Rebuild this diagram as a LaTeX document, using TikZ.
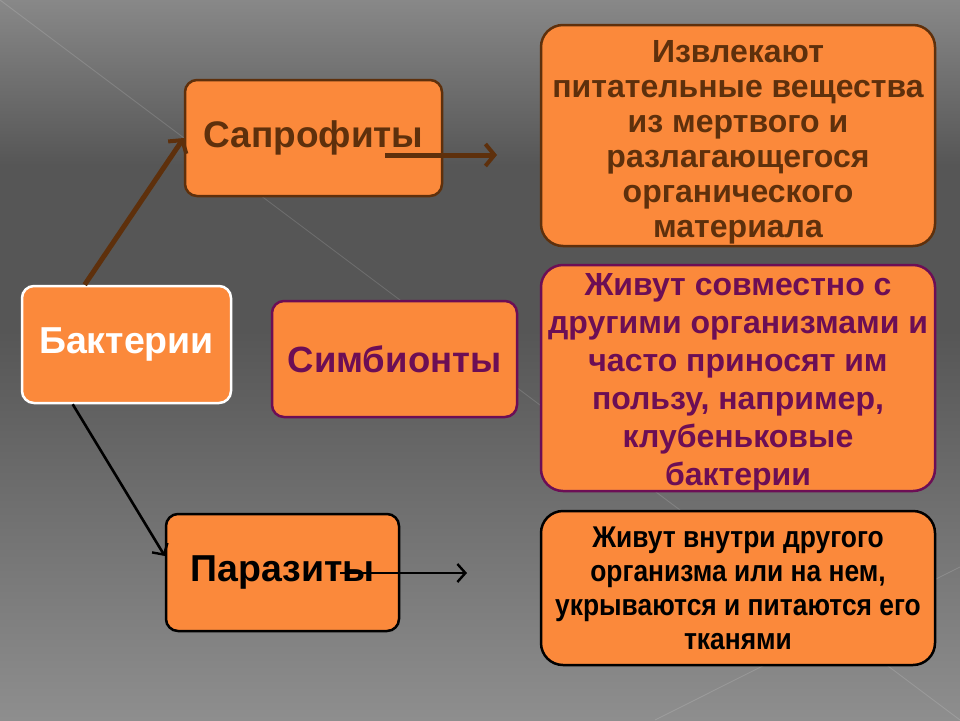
\documentclass[tikz,border=0pt]{standalone}
\usepackage{fontspec}
\setmainfont{Liberation Sans}
\newfontfamily\narrowfont[FakeStretch=0.88]{Liberation Sans}
\usetikzlibrary{arrows.meta,calc}
\definecolor{orfill}{HTML}{FB893B}
\definecolor{brownc}{HTML}{5E300C}
\definecolor{purpc}{HTML}{6C0E55}
\definecolor{bgtop}{HTML}{888888}
\definecolor{bgmid}{HTML}{565656}
\definecolor{bgbot}{HTML}{8E8E8E}
\tikzset{
  box/.style={draw, line width=2.5pt, fill=orfill, align=center, inner sep=0pt},
  smallbox/.style={box, rounded corners=12pt},
  bigbox/.style={box, rounded corners=22pt},
  brownbox/.style={draw=brownc, text=brownc},
  purplebox/.style={draw=purpc, text=purpc},
  whitebox/.style={draw=white, text=white},
  blackbox/.style={draw=black, text=black},
  brownarrow/.style={draw=brownc, line width=5pt, -{Straight Barb[length=9pt,width=22pt,line width=4pt]}},
  blackarrow/.style={draw=black, line width=2.6pt, -{Straight Barb[length=8pt,width=18pt,line width=2.4pt]}},
  faint/.style={draw=white, opacity=0.15, line width=0.8pt}
}
\begin{document}
\begin{tikzpicture}[x=1pt,y=-1pt]
\shade[top color=bgtop, bottom color=bgmid, middle color=bgmid] (0,0) rectangle (960,330);
\shade[top color=bgmid, bottom color=bgbot] (0,330) rectangle (960,720);
\useasboundingbox (0,0) rectangle (960,720);
\draw[faint] (0,0) -- (960,720);
\draw[faint] (655,720) -- (960,567);

% nodes
\node[smallbox, brownbox, minimum width=257pt, minimum height=116pt, font=\fontsize{37}{40}\selectfont\bfseries] (sap) at (313.5,138) {Сапрофиты};
\node[bigbox, brownbox, minimum width=394pt, minimum height=221pt] (sapd) at (738,135.5) {};
\node[brownc, align=center, inner sep=0pt, font=\fontsize{32}{35}\selectfont\bfseries] (sapt) at (738,142) {Извлекают\\питательные вещества\\из мертвого и\\разлагающегося\\органического\\материала};
\node[smallbox, whitebox, minimum width=209pt, minimum height=117pt, font=\fontsize{37.5}{40}\selectfont\bfseries] (bact) at (126.5,344.5) {Бактерии};
\node[smallbox, purplebox, minimum width=245pt, minimum height=116pt, font=\fontsize{36.5}{40}\selectfont\bfseries] (sym) at (394.5,359) {Симбионты};
\node[bigbox, purplebox, minimum width=394pt, minimum height=226pt] (symd) at (738,378) {};
\node[purpc, align=center, inner sep=0pt, font=\fontsize{32}{38}\selectfont\bfseries] (symt) at (738,383) {Живут совместно с\\другими организмами и\\часто приносят им\\пользу, например,\\клубеньковые\\бактерии};
\node[smallbox, blackbox, minimum width=233pt, minimum height=117pt, font=\fontsize{37.5}{40}\selectfont\bfseries] (para) at (282.5,572.5) {Паразиты};
\node[bigbox, blackbox, minimum width=394pt, minimum height=154pt, font=\narrowfont\fontsize{30}{34}\selectfont\bfseries] (parad) at (738,588) {Живут внутри другого\\организма или на нем,\\укрываются и питаются его\\тканями};

% connectors
\coordinate (sapfrom) at ($(sap.center)+(71.5,17)$);
\coordinate (sapto) at (497,155);
\coordinate (parafrom) at ($(para.center)+(57.5,0.5)$);
\coordinate (parato) at (467,573);
\draw[brownarrow] (bact.125) -- (sap.west);
\draw[brownarrow] (sapfrom) -- (sapto);
\draw[blackarrow] (bact.228) -- (para.172);
\draw[blackarrow] (parafrom) -- (parato);
\end{tikzpicture}
\end{document}
